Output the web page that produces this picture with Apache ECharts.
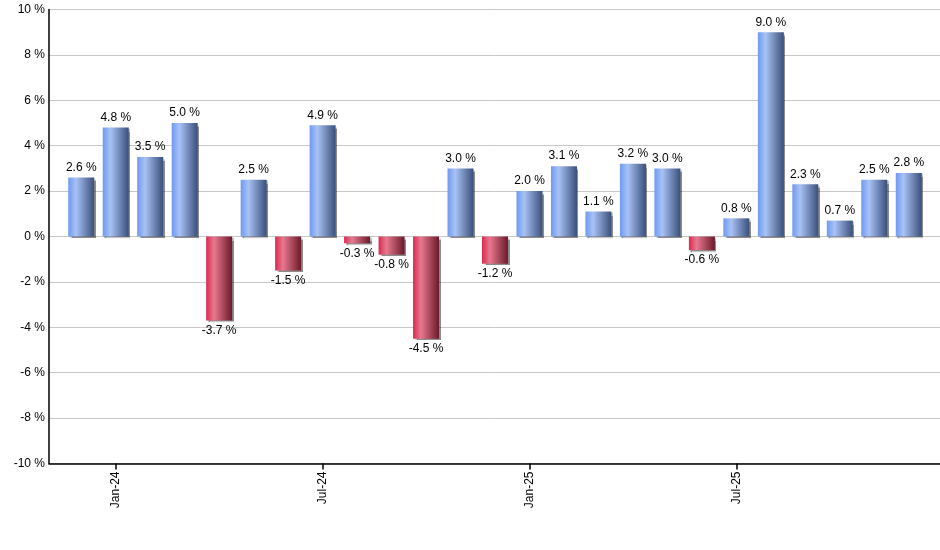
<!DOCTYPE html>
<html>
<head>
<meta charset="utf-8">
<script src="https://cdn.jsdelivr.net/npm/echarts@6/dist/echarts.min.js"></script>
<style>html,body{margin:0;padding:0;background:#fff}#c{width:940px;height:550px}</style>
</head>
<body>
<div id="c"></div>
<script>
const months = ['Dec-23','Jan-24','Feb-24','Mar-24','Apr-24','May-24','Jun-24','Jul-24','Aug-24','Sep-24','Oct-24','Nov-24','Dec-24','Jan-25','Feb-25','Mar-25','Apr-25','May-25','Jun-25','Jul-25','Aug-25','Sep-25','Oct-25','Nov-25','Dec-25'];
const returns = [2.6, 4.8, 3.5, 5.0, -3.7, 2.5, -1.5, 4.9, -0.3, -0.8, -4.5, 3.0, -1.2, 2.0, 3.1, 1.1, 3.2, 3.0, -0.6, 0.8, 9.0, 2.3, 0.7, 2.5, 2.8];
const yTicks = { min: -10, max: 10, step: 2 };

const blue = new echarts.graphic.LinearGradient(0,0,1,0,[
  {offset:0,color:'#6f9af0'},{offset:0.3,color:'#a8c2f5'},{offset:1,color:'#3a4f7a'}]);
const red = new echarts.graphic.LinearGradient(0,0,1,0,[
  {offset:0,color:'#d82a50'},{offset:0.3,color:'#e8788f'},{offset:1,color:'#6a1a2a'}]);

const font = 'Arial, "Liberation Sans", sans-serif';
const showIdx = (i) => months[i] && (months[i].startsWith('Jan') || months[i].startsWith('Jul'));

const chart = echarts.init(document.getElementById('c'), null, {renderer:'canvas'});
chart.setOption({
  animation: false,
  grid: [
    {left: 49, right: 0, top: 9.5, bottom: 86.5},
    {left: 64, right: 14, top: 9.5, bottom: 86.5}
  ],
  xAxis: [
    {gridIndex:0, type:'value', min:0, max:1, axisLine:{show:true, onZero:false, lineStyle:{color:'#000', width:1.5}},
     axisTick:{show:false}, axisLabel:{show:false}, splitLine:{show:false}},
    {gridIndex:1, type:'category', data: months, boundaryGap:true,
     axisLine:{show:false, onZero:false},
     axisTick:{show:true, alignWithLabel:true, length:6, interval:(i)=>showIdx(i), lineStyle:{color:'#000', width:1.5}},
     axisLabel:{show:true, interval:(i)=>showIdx(i), rotate:90, margin:8, color:'#000', fontSize:12, fontFamily:font},
     splitLine:{show:false}}
  ],
  yAxis: [
    {gridIndex:0, type:'value', min:yTicks.min, max:yTicks.max, interval:yTicks.step,
     axisLine:{show:true, lineStyle:{color:'#000', width:1.5}}, axisTick:{show:false},
     axisLabel:{formatter:(v)=>v+' %', color:'#000', fontSize:12, fontFamily:font, margin:4},
     splitLine:{show:true, lineStyle:{color:'#c8c8c8', width:1}}},
    {gridIndex:1, type:'value', min:yTicks.min, max:yTicks.max, interval:yTicks.step, show:false, splitLine:{show:false}}
  ],
  series: [{
    type:'bar', xAxisIndex:1, yAxisIndex:1, barWidth:26,
    data: returns.map(v => ({
      value: v,
      itemStyle: {color: v >= 0 ? blue : red, shadowColor:'rgba(0,0,0,0.45)', shadowOffsetX:1.5, shadowOffsetY:1.5, shadowBlur:1},
      label: {position: v >= 0 ? 'top' : 'bottom'}
    })),
    label: {show:true, distance:4, color:'#000', fontSize:12, fontFamily:font, formatter:(p)=>p.value.toFixed(1)+' %'}
  }]
});
</script>
</body>
</html>
